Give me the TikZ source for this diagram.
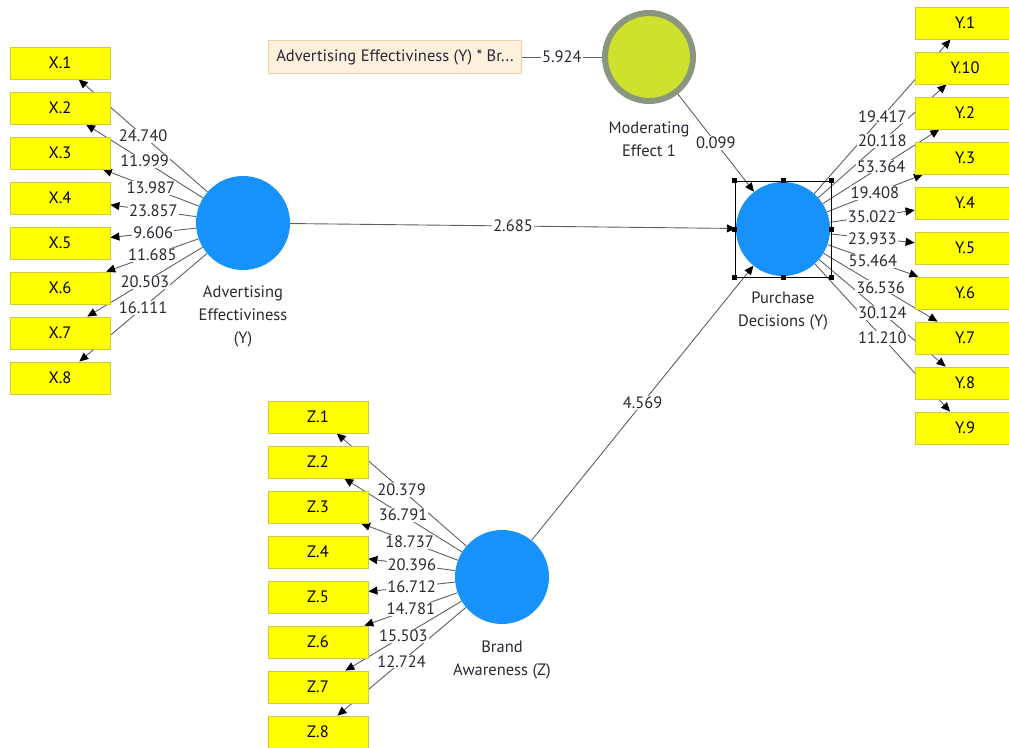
\documentclass[tikz,border=0pt]{standalone}
\usepackage{fontspec}
\setmainfont{PT Sans}
\usetikzlibrary{arrows.meta}
\pgfdeclarelayer{bg}
\pgfdeclarelayer{fg}
\pgfsetlayers{bg,main,fg}
\definecolor{lvblue}{RGB}{22,146,250}
\definecolor{indfill}{RGB}{255,255,0}
\definecolor{indborder}{RGB}{205,205,60}
\definecolor{linegray}{RGB}{95,95,95}
\definecolor{labelcol}{RGB}{40,40,55}
\definecolor{modfill}{RGB}{205,225,45}
\definecolor{modborder}{RGB}{138,150,128}
\definecolor{intfill}{RGB}{253,241,222}
\definecolor{intborder}{RGB}{235,207,168}
\newcommand\plsfont{\fontsize{16.5}{23}\selectfont}
\newcommand\plsedge[4]{%
  \begin{pgfonlayer}{bg}\draw[conn,#1] (#2) -- (#3);\end{pgfonlayer}%
  \begin{pgfonlayer}{fg}\path (#2) -- node[elabel]{#4} (#3);\end{pgfonlayer}}
\tikzset{
  ind/.style={draw=indborder, fill=indfill, line width=0.8pt, minimum width=100pt,
    minimum height=32pt, inner sep=0pt, font=\plsfont, text=black},
  lv/.style={circle, fill=lvblue, minimum size=94pt, inner sep=0pt},
  conn/.style={draw=linegray, line width=0.9pt},
  arr/.style={-{Triangle[length=9pt,width=8pt,color=black]}},
  plain/.style={},
  elabel/.style={fill=white, inner sep=1pt, text=labelcol, font=\plsfont},
  lvcaption/.style={text=labelcol, font=\plsfont, align=center},
  handle/.style={fill=black, minimum size=5pt, inner sep=0pt}
}
\begin{document}
\begin{tikzpicture}[x=1pt,y=-1pt]
\useasboundingbox (0,0) rectangle (1009,747);
% latent variables
\node[lv] (adv) at (243,223) {};
\node[lv] (pd) at (783,229) {};
\node[lv] (ba) at (502,577) {};
\node[circle, draw=modborder, line width=6pt, fill=modfill, minimum size=88pt, inner sep=0pt] (mod) at (649,57) {};
% captions
\node[lvcaption] (advcap) at (243,316) {Advertising\\Effectiviness\\(Y)};
\node[lvcaption] (pdcap) at (783,310.5) {Purchase\\Decisions (Y)};
\node[lvcaption] (bacap) at (502,659.5) {Brand\\Awareness (Z)};
\node[lvcaption] (modcap) at (649,139) {Moderating\\Effect 1};
% interaction indicator
\node[draw=intborder, fill=intfill, line width=0.8pt, minimum width=253pt, minimum height=33pt,
  inner sep=0pt, font=\plsfont, text=labelcol] (int) at (395,57) {Advertising Effectiviness (Y) * Br...};
% X indicators
\foreach \i in {1,...,8} \node[ind] (x\i) at (60,{63+45*(\i-1)}) {X.\i};
% Z indicators
\foreach \i in {1,...,8} \node[ind] (z\i) at (318,{417+45*(\i-1)}) {Z.\i};
% Y indicators
\foreach \t [count=\k] in {1,10,2,3,4,5,6,7,8,9}
  \node[ind] (y\k) at (965,{23+45*(\k-1)}) {Y.\t};
% selection frame
\node[draw=black, line width=0.8pt, minimum size=96pt, inner sep=0pt] (sel) at (pd) {};
\foreach \a [count=\i] in {north west,north,north east,east,south east,south,south west,west}
  \node[handle] (h\i) at (sel.\a) {};
% outer model X
\plsedge{arr}{adv}{x1}{24.740}
\plsedge{arr}{adv}{x2}{11.999}
\plsedge{arr}{adv}{x3}{13.987}
\plsedge{arr}{adv}{x4}{23.857}
\plsedge{arr}{adv}{x5}{9.606}
\plsedge{arr}{adv}{x6}{11.685}
\plsedge{arr}{adv}{x7}{20.503}
\plsedge{arr}{adv}{x8}{16.111}
% outer model Z
\plsedge{arr}{ba}{z1}{20.379}
\plsedge{arr}{ba}{z2}{36.791}
\plsedge{arr}{ba}{z3}{18.737}
\plsedge{arr}{ba}{z4}{20.396}
\plsedge{arr}{ba}{z5}{16.712}
\plsedge{arr}{ba}{z6}{14.781}
\plsedge{arr}{ba}{z7}{15.503}
\plsedge{arr}{ba}{z8}{12.724}
% outer model Y
\plsedge{arr}{pd}{y1}{19.417}
\plsedge{arr}{pd}{y2}{20.118}
\plsedge{arr}{pd}{y3}{53.364}
\plsedge{arr}{pd}{y4}{19.408}
\plsedge{arr}{pd}{y5}{35.022}
\plsedge{arr}{pd}{y6}{23.933}
\plsedge{arr}{pd}{y7}{55.464}
\plsedge{arr}{pd}{y8}{36.536}
\plsedge{arr}{pd}{y9}{30.124}
\plsedge{arr}{pd}{y10}{11.210}
% inner model
\plsedge{arr}{adv}{pd}{2.685}
\plsedge{arr}{ba}{pd}{4.569}
\plsedge{arr}{mod}{pd}{0.099}
\plsedge{plain}{int}{mod}{5.924}
\end{tikzpicture}
\end{document}
